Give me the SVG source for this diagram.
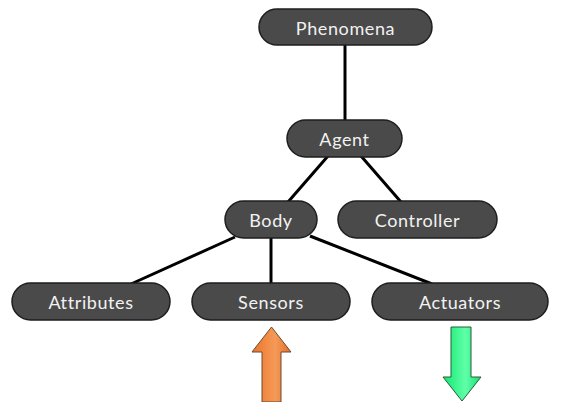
<svg xmlns="http://www.w3.org/2000/svg" width="572" height="402" viewBox="0 0 572 402">
<defs>
<style>
.pill{fill:#4a4a4a;stroke:#1e1e1e;stroke-width:1.5}
.lbl{fill:#f2f2f2;font-family:"Lato","DejaVu Sans",sans-serif;font-size:18px;letter-spacing:0.6px;text-anchor:middle;dominant-baseline:central}
.edge{stroke:#000;stroke-width:3;fill:none}
</style>
<linearGradient id="gOr" x1="0" y1="0" x2="1" y2="0">
<stop offset="0" stop-color="#ee7428"/><stop offset="0.6" stop-color="#f49a58"/><stop offset="1" stop-color="#e66e26"/>
</linearGradient>
<linearGradient id="gGr" x1="0" y1="0" x2="1" y2="0">
<stop offset="0" stop-color="#10e870"/><stop offset="0.6" stop-color="#60ffa8"/><stop offset="1" stop-color="#12e070"/>
</linearGradient>
</defs>
<rect width="572" height="402" fill="#fff"/>
<g id="connectors">
<line class="edge" x1="345" y1="45" x2="345" y2="121"/>
<line class="edge" x1="328" y1="156" x2="288" y2="202"/>
<line class="edge" x1="361" y1="156" x2="401" y2="202"/>
<line class="edge" x1="235" y1="237" x2="131" y2="284"/>
<line class="edge" x1="271" y1="237" x2="271" y2="284"/>
<line class="edge" x1="310" y1="236" x2="432" y2="284"/>
</g>
<g id="phenomena"><rect class="pill" x="259" y="9" width="173" height="36" rx="18"/><text class="lbl" x="345.5" y="28">Phenomena</text></g>
<g id="agent"><rect class="pill" x="287" y="120" width="115" height="37" rx="18.5"/><text class="lbl" x="344.5" y="139">Agent</text></g>
<g id="body"><rect class="pill" x="225" y="201" width="92" height="37" rx="18.5"/><text class="lbl" x="271" y="220">Body</text></g>
<g id="controller"><rect class="pill" x="338" y="201" width="159" height="37" rx="18.5"/><text class="lbl" x="417.5" y="220">Controller</text></g>
<g id="attributes"><rect class="pill" x="12" y="283" width="158" height="37" rx="18.5"/><text class="lbl" x="91" y="302">Attributes</text></g>
<g id="sensors"><rect class="pill" x="192" y="283" width="158" height="37" rx="18.5"/><text class="lbl" x="271" y="302">Sensors</text></g>
<g id="actuators"><rect class="pill" x="372" y="283" width="176" height="37" rx="18.5"/><text class="lbl" x="460" y="302">Actuators</text></g>
<g id="sensor-arrow"><polygon points="271.5,327 291,352 281,352 281,402 262,402 262,352 252,352" fill="url(#gOr)" stroke="#6a4a30" stroke-width="1"/></g>
<g id="actuator-arrow"><polygon points="451,327 471,327 471,377 481,377 462,401 443,377 451,377" fill="url(#gGr)" stroke="#2a5a3a" stroke-width="1"/></g>
</svg>
